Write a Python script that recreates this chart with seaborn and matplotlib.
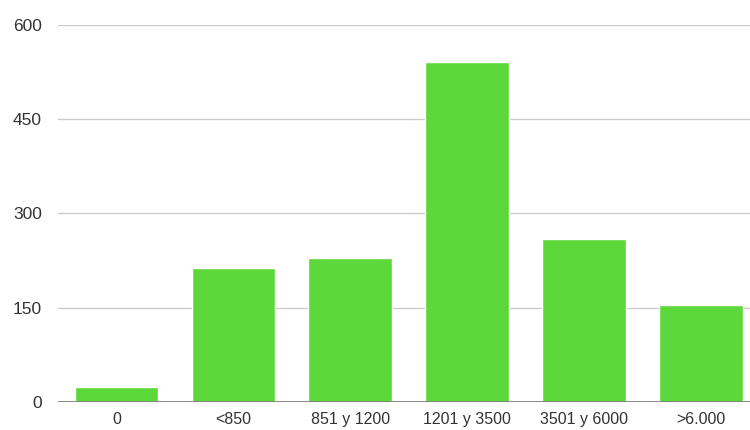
import pandas as pd
import matplotlib
matplotlib.use("Agg")
import matplotlib.pyplot as plt
import seaborn as sns

# ── Data ────────────────────────────────────────────────────
categories = ["0", "<850", "851 y 1200", "1201 y 3500", "3501 y 6000", ">6.000"]
values = [24, 213, 229, 541, 259, 154]
yticks = [0, 150, 300, 450, 600]

df = pd.DataFrame({"rango": categories, "n": values})

# ── Plot ────────────────────────────────────────────────────
sns.set_style("white")
plt.rcParams["font.family"] = ["Liberation Sans", "DejaVu Sans"]

fig = plt.figure(figsize=(7.5, 4.3), dpi=100)
ax = fig.add_axes([0.0773, 0.0651, 0.9227, 0.8768])

sns.barplot(data=df, x="rango", y="n", color="#5dd83a", saturation=1,
            width=0.715, ax=ax, zorder=3)

ax.set_ylim(0, 600)
ax.set_xlim(-0.5, 5.42)
ax.set_yticks(yticks)
ax.set_yticklabels([str(v) for v in yticks])
ax.grid(axis="y", color="#cccccc", linewidth=1.0, zorder=0)
ax.axhline(0, color="#777777", linewidth=1.2, zorder=4)

for s in ax.spines.values():
    s.set_visible(False)
ax.tick_params(axis="y", length=0, pad=11.5, labelsize=12.5, labelcolor="#333333")
ax.tick_params(axis="x", length=0, pad=7, labelsize=11.5, labelcolor="#333333")
ax.set_xlabel("")
ax.set_ylabel("")

plt.savefig("out.png", dpi=100)
